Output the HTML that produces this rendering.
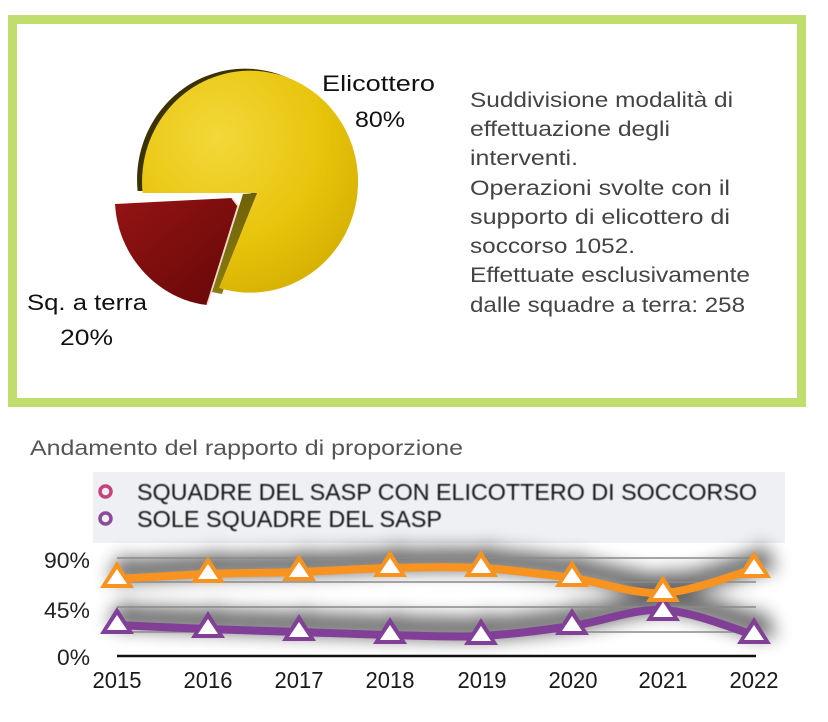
<!DOCTYPE html>
<html><head><meta charset="utf-8"><style>
html,body{margin:0;padding:0;background:#fff;}
svg{display:block;}
text{font-family:"Liberation Sans",sans-serif;}
</style></head><body>
<svg width="828" height="722" viewBox="0 0 828 722" xmlns="http://www.w3.org/2000/svg">
<defs>
  <radialGradient id="yel" cx="0.35" cy="0.3" r="0.8">
    <stop offset="0" stop-color="#f3d83a"/>
    <stop offset="0.6" stop-color="#e8c40c"/>
    <stop offset="1" stop-color="#d4ae00"/>
  </radialGradient>
  <linearGradient id="red" x1="0" y1="0" x2="1" y2="1">
    <stop offset="0" stop-color="#951414"/>
    <stop offset="1" stop-color="#650707"/>
  </linearGradient>
  <linearGradient id="wall" x1="0" y1="0" x2="0" y2="1">
    <stop offset="0" stop-color="#6e6208"/>
    <stop offset="1" stop-color="#8a7c10"/>
  </linearGradient>
  <filter id="sh" x="-20%" y="-80%" width="140%" height="260%">
    <feGaussianBlur stdDeviation="9"/>
  </filter>
  <filter id="sb" x="-5%" y="-50%" width="110%" height="200%">
    <feGaussianBlur stdDeviation="0.4"/>
  </filter>
</defs>

<rect width="828" height="722" fill="#fff"/>

<!-- Top green box -->
<rect x="12.5" y="19.5" width="789" height="383" fill="#fff" stroke="#c0de6e" stroke-width="9"/>

<!-- Pie: dark rim -->
<path d="M252,191 L137.6,191 A108,111 0 1,1 214,286 Z" fill="#3a3300"/>
<!-- wall -->
<polygon points="243,194 257,193 222,294 212,292" fill="url(#wall)"/>
<!-- yellow face -->
<path d="M257,193 L142.6,193 A108,111 0 1,1 219,288 Z" fill="url(#yel)"/>
<!-- red wedge -->
<path d="M115,204 L232,198 L238,206 L207,305 C160,300 118,258 115,204 Z" fill="url(#red)"/>
<path d="M232,198 L238,206 L207,305" fill="none" stroke="#f2d6c8" stroke-width="1.5"/>

<!-- Pie labels -->
<text x="322" y="91" font-size="22" fill="#111" textLength="113" lengthAdjust="spacingAndGlyphs">Elicottero</text>
<text x="355" y="127" font-size="22" fill="#111" textLength="50" lengthAdjust="spacingAndGlyphs">80%</text>
<text x="27" y="310" font-size="22" fill="#111" textLength="120" lengthAdjust="spacingAndGlyphs">Sq. a terra</text>
<text x="60" y="345" font-size="22" fill="#111" textLength="53" lengthAdjust="spacingAndGlyphs">20%</text>

<!-- Right description -->
<g font-size="21" fill="#444">
  <text x="470" y="107" textLength="263" lengthAdjust="spacingAndGlyphs">Suddivisione modalità di</text>
  <text x="470" y="136" textLength="200" lengthAdjust="spacingAndGlyphs">effettuazione degli</text>
  <text x="470" y="165" textLength="108" lengthAdjust="spacingAndGlyphs">interventi.</text>
  <text x="470" y="195" textLength="260" lengthAdjust="spacingAndGlyphs">Operazioni svolte con  il</text>
  <text x="470" y="224" textLength="260" lengthAdjust="spacingAndGlyphs">supporto di elicottero di</text>
  <text x="470" y="253" textLength="165" lengthAdjust="spacingAndGlyphs">soccorso 1052.</text>
  <text x="470" y="282" textLength="280" lengthAdjust="spacingAndGlyphs">Effettuate esclusivamente</text>
  <text x="470" y="312" textLength="275" lengthAdjust="spacingAndGlyphs">dalle squadre a terra: 258</text>
</g>

<!-- Chart title -->
<text x="30" y="455" font-size="21" fill="#555" textLength="433" lengthAdjust="spacingAndGlyphs">Andamento del rapporto di proporzione</text>

<!-- Legend -->
<rect x="93" y="472" width="692" height="71" fill="#eef0f4"/>
<circle cx="105.5" cy="491.5" r="5.5" fill="none" stroke="#c8407c" stroke-width="3.5"/>
<circle cx="105.5" cy="518.5" r="5.5" fill="none" stroke="#8a4a9c" stroke-width="3.5"/>
<g filter="url(#sb)">
<text x="137" y="500" font-size="23" fill="#141414" textLength="620" lengthAdjust="spacingAndGlyphs">SQUADRE DEL SASP CON ELICOTTERO DI SOCCORSO</text>
<text x="137" y="527" font-size="23" fill="#141414" textLength="305" lengthAdjust="spacingAndGlyphs">SOLE SQUADRE DEL SASP</text>
</g>

<!-- Shadows -->
<g filter="url(#sh)" opacity="0.6" transform="translate(7,-8)">
  <path d="M117,579 C132.2,578.2 177.7,575.2 208,574 C238.3,572.8 268.7,573 299,572 C329.3,571 359.7,568.7 390,568 C420.3,567.3 450.7,566.3 481,568 C511.3,569.7 541.7,573.8 572,578 C602.3,582.2 632.7,594.5 663,593 C693.3,591.5 738.8,573 754,569" fill="none" stroke="#000" stroke-width="22" stroke-linecap="round"/>
  <path d="M117,625 C132.2,625.7 177.7,627.8 208,629 C238.3,630.2 268.7,631 299,632 C329.3,633 359.7,634.3 390,635 C420.3,635.7 450.7,637.5 481,636 C511.3,634.5 541.7,630.3 572,626 C602.3,621.7 632.7,608.5 663,610 C693.3,611.5 738.8,630.8 754,635" fill="none" stroke="#000" stroke-width="22" stroke-linecap="round"/>
  <g fill="#000">
    <polygon points="117,561 100,588 134,588"/><polygon points="208,556 191,583 225,583"/>
    <polygon points="299,554 282,581 316,581"/><polygon points="390,550 373,577 407,577"/>
    <polygon points="481,550 464,577 498,577"/><polygon points="572,560 555,587 589,587"/>
    <polygon points="663,575 646,602 680,602"/><polygon points="754,551 737,578 771,578"/>
    <polygon points="117,607 100,634 134,634"/><polygon points="208,611 191,638 225,638"/>
    <polygon points="299,614 282,641 316,641"/><polygon points="390,617 373,644 407,644"/>
    <polygon points="481,618 464,645 498,645"/><polygon points="572,608 555,635 589,635"/>
    <polygon points="663,594 646,621 680,621"/><polygon points="754,617 737,644 771,644"/>
  </g>
</g>

<!-- Grid -->
<g stroke="#8a8a8a" stroke-width="1.5">
  <line x1="117" y1="558" x2="756" y2="558"/>
  <line x1="117" y1="582" x2="756" y2="582"/>
  <line x1="117" y1="607" x2="756" y2="607"/>
  <line x1="117" y1="632" x2="756" y2="632"/>
</g>
<line x1="117" y1="656" x2="756" y2="656" stroke="#111" stroke-width="2.5"/>

<!-- Y labels -->
<g font-size="22" fill="#222" text-anchor="end">
  <text x="90" y="568" textLength="46" lengthAdjust="spacingAndGlyphs">90%</text>
  <text x="90" y="618" textLength="46" lengthAdjust="spacingAndGlyphs">45%</text>
  <text x="90" y="665" textLength="33" lengthAdjust="spacingAndGlyphs">0%</text>
</g>

<!-- X labels -->
<g font-size="23" fill="#1a1a1a" text-anchor="middle">
  <text x="117" y="688" textLength="49" lengthAdjust="spacingAndGlyphs">2015</text>
  <text x="208" y="688" textLength="49" lengthAdjust="spacingAndGlyphs">2016</text>
  <text x="299" y="688" textLength="49" lengthAdjust="spacingAndGlyphs">2017</text>
  <text x="390" y="688" textLength="49" lengthAdjust="spacingAndGlyphs">2018</text>
  <text x="482" y="688" textLength="49" lengthAdjust="spacingAndGlyphs">2019</text>
  <text x="573" y="688" textLength="49" lengthAdjust="spacingAndGlyphs">2020</text>
  <text x="663" y="688" textLength="49" lengthAdjust="spacingAndGlyphs">2021</text>
  <text x="754" y="688" textLength="49" lengthAdjust="spacingAndGlyphs">2022</text>
</g>

<!-- Orange series -->
<path d="M117,579 C132.2,578.2 177.7,575.2 208,574 C238.3,572.8 268.7,573 299,572 C329.3,571 359.7,568.7 390,568 C420.3,567.3 450.7,566.3 481,568 C511.3,569.7 541.7,573.8 572,578 C602.3,582.2 632.7,594.5 663,593 C693.3,591.5 738.8,573 754,569" fill="none" stroke="#f7931e" stroke-width="8" stroke-linecap="round"/>

<!-- Purple series -->
<path d="M117,625 C132.2,625.7 177.7,627.8 208,629 C238.3,630.2 268.7,631 299,632 C329.3,633 359.7,634.3 390,635 C420.3,635.7 450.7,637.5 481,636 C511.3,634.5 541.7,630.3 572,626 C602.3,621.7 632.7,608.5 663,610 C693.3,611.5 738.8,630.8 754,635" fill="none" stroke="#813f97" stroke-width="8" stroke-linecap="round"/>

<!-- Purple markers -->
<g fill="#813f97">
  <polygon points="117,607 100,634 134,634"/>
  <polygon points="208,611 191,638 225,638"/>
  <polygon points="299,614 282,641 316,641"/>
  <polygon points="390,617 373,644 407,644"/>
  <polygon points="481,618 464,645 498,645"/>
  <polygon points="572,608 555,635 589,635"/>
  <polygon points="663,594 646,621 680,621"/>
  <polygon points="754,617 737,644 771,644"/>
</g>
<g fill="#fff">
  <polygon points="117,615 107,630 127,630"/>
  <polygon points="208,619 198,634 218,634"/>
  <polygon points="299,622 289,637 309,637"/>
  <polygon points="390,625 380,640 400,640"/>
  <polygon points="481,626 471,641 491,641"/>
  <polygon points="572,616 562,631 582,631"/>
  <polygon points="663,602 653,617 673,617"/>
  <polygon points="754,625 744,640 764,640"/>
</g>

<!-- Orange markers -->
<g fill="#f7931e">
  <polygon points="117,561 100,588 134,588"/>
  <polygon points="208,556 191,583 225,583"/>
  <polygon points="299,554 282,581 316,581"/>
  <polygon points="390,550 373,577 407,577"/>
  <polygon points="481,550 464,577 498,577"/>
  <polygon points="572,560 555,587 589,587"/>
  <polygon points="663,575 646,602 680,602"/>
  <polygon points="754,551 737,578 771,578"/>
</g>
<g fill="#fff">
  <polygon points="117,569 107,584 127,584"/>
  <polygon points="208,564 198,579 218,579"/>
  <polygon points="299,562 289,577 309,577"/>
  <polygon points="390,558 380,573 400,573"/>
  <polygon points="481,558 471,573 491,573"/>
  <polygon points="572,568 562,583 582,583"/>
  <polygon points="663,583 653,598 673,598"/>
  <polygon points="754,559 744,574 764,574"/>
</g>
</svg>
</body></html>
